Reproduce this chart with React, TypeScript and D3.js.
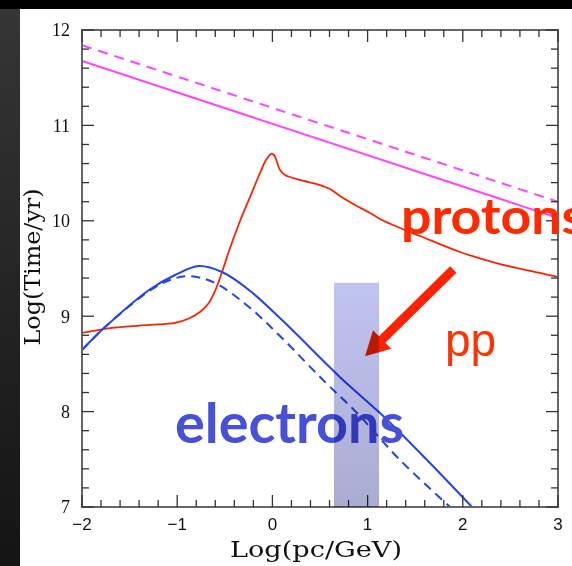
import React from "react";
import * as d3 from "d3";

// ---- data ----
const xDomain = [-2, 3];
const yDomain = [7, 12];
const xTickLabels = ["\u22122", "\u22121", "0", "1", "2", "3"];
const xTickValues = [-2, -1, 0, 1, 2, 3];
const yTickValues = [7, 8, 9, 10, 11, 12];
const yTickLabels = ["7", "8", "9", "10", "11", "12"];

// magenta straight lines
const magentaSolid: [number, number][] = [[-2, 11.675], [3, 10.03]];
const magentaDashed: [number, number][] = [[-2, 11.84], [3, 10.2]];

// protons (red)
const protonX = [-2.0, -1.706, -1.286, -1.023, -0.866, -0.761, -0.676, -0.603, -0.529, -0.456, -0.34, -0.235, -0.13, -0.067, -0.015, 0.017, 0.048, 0.08, 0.132, 0.29, 0.5, 0.605, 0.71, 0.868, 1.025, 1.13, 1.34, 1.55, 1.971, 2.391, 2.811, 3.0];
const protonY = [8.824, 8.876, 8.908, 8.929, 8.981, 9.044, 9.128, 9.264, 9.463, 9.684, 9.998, 10.249, 10.501, 10.637, 10.7, 10.69, 10.616, 10.532, 10.48, 10.428, 10.375, 10.333, 10.26, 10.166, 10.082, 10.019, 9.925, 9.841, 9.673, 9.547, 9.453, 9.411];

// electrons solid (blue)
const elecSolidX = [-2.0, -1.769, -1.296, -1.023, -0.771, -0.529, -0.246, 0.101, 0.742, 1.13, 1.624, 2.097];
const elecSolidY = [8.646, 8.876, 9.275, 9.432, 9.526, 9.463, 9.275, 8.96, 8.331, 7.985, 7.493, 7.0];

// electrons dashed (blue)
const elecDashX = [-2.0, -1.769, -1.296, -1.076, -0.876, -0.603, -0.246, 0.101, 0.532, 0.889, 1.34, 1.866];
const elecDashY = [8.646, 8.876, 9.264, 9.379, 9.421, 9.348, 9.096, 8.771, 8.331, 7.985, 7.493, 7.0];

// shaded band (x range and top y)
const bandX = [0.647, 1.12];
const bandTop = 9.35;

// arrow tail -> tip (data coords)
const arrowTail = [1.9, 9.49];
const arrowTip = [0.973, 8.58];

const W = 572;
const H = 566;
const M = { left: 82, right: 558, top: 30, bottom: 507 };

export default function App() {
  const x = d3.scaleLinear().domain(xDomain).range([M.left, M.right]);
  const y = d3.scaleLinear().domain(yDomain).range([M.bottom, M.top]);

  const line = d3
    .line<[number, number]>()
    .x((d) => x(d[0]))
    .y((d) => y(d[1]));
  const smooth = d3
    .line<[number, number]>()
    .x((d) => x(d[0]))
    .y((d) => y(d[1]))
    .curve(d3.curveCatmullRom.alpha(0.5));

  const zip = (a: number[], b: number[]) => a.map((v, i) => [v, b[i]] as [number, number]);

  const minorX = d3.range(-2, 3.0001, 0.2).map((v) => Math.round(v * 10) / 10);
  const minorY = d3.range(7, 12.0001, 0.2).map((v) => Math.round(v * 10) / 10);
  const isMajor = (v: number) => Math.abs(v - Math.round(v)) < 1e-6;

  // arrow polygon
  const tx = x(arrowTail[0]), ty = y(arrowTail[1]);
  const px = x(arrowTip[0]), py = y(arrowTip[1]);
  const len = Math.hypot(px - tx, py - ty);
  const ux = (px - tx) / len, uy = (py - ty) / len;
  const nx = -uy, ny = ux;
  const sw = 4.5, hl = 24, hw = 13;
  const neckX = px - ux * hl, neckY = py - uy * hl;
  const arrowPts = [
    [tx + nx * sw, ty + ny * sw],
    [neckX + nx * sw, neckY + ny * sw],
    [neckX + nx * hw, neckY + ny * hw],
    [px, py],
    [neckX - nx * hw, neckY - ny * hw],
    [neckX - nx * sw, neckY - ny * sw],
    [tx - nx * sw, ty - ny * sw],
  ]
    .map((p) => p.join(","))
    .join(" ");

  const tickColor = "#333";

  return (
    <svg
      width={W}
      height={H}
      style={{ position: "absolute", left: 0, top: 0, background: "#fff" }}
    >
      <defs>
        <linearGradient id="strip" x1="0" y1="0" x2="0" y2="1">
          <stop offset="0" stopColor="#363636" />
          <stop offset="1" stopColor="#141414" />
        </linearGradient>
        <linearGradient id="band" x1="0" y1="0" x2="0" y2="1">
          <stop offset="0" stopColor="rgb(192,196,240)" />
          <stop offset="1" stopColor="rgb(170,172,210)" />
        </linearGradient>
        <clipPath id="plot">
          <rect x={M.left} y={M.top} width={M.right - M.left} height={M.bottom - M.top} />
        </clipPath>
      </defs>

      {/* slide background */}
      <rect x={0} y={0} width={W} height={H} fill="#fff" />
      <rect x={0} y={0} width={20} height={H} fill="url(#strip)" />
      <rect x={0} y={0} width={W} height={9} fill="#000" />

      {/* curves */}
      <g clipPath="url(#plot)" fill="none">
        <path d={line(magentaDashed) || ""} stroke="#ff44ff" strokeWidth={2} strokeDasharray="10,7" />
        <path d={line(magentaSolid) || ""} stroke="#ff44ff" strokeWidth={2} />
        <path d={smooth(zip(protonX, protonY)) || ""} stroke="#ff2200" strokeWidth={1.8} />
        <path d={smooth(zip(elecDashX, elecDashY)) || ""} stroke="#2244ee" strokeWidth={2} strokeDasharray="9,6" />
        <path d={smooth(zip(elecSolidX, elecSolidY)) || ""} stroke="#2244ee" strokeWidth={2} />
      </g>

      {/* frame */}
      <rect
        x={M.left}
        y={M.top}
        width={M.right - M.left}
        height={M.bottom - M.top}
        fill="none"
        stroke="#666"
        strokeWidth={2}
      />
      {/* ticks */}
      <g stroke={tickColor} strokeWidth={1.3}>
        {minorX.map((v) => {
          const L = isMajor(v) ? 12 : 7;
          return (
            <g key={"x" + v}>
              <line x1={x(v)} x2={x(v)} y1={M.bottom} y2={M.bottom - L} />
              <line x1={x(v)} x2={x(v)} y1={M.top} y2={M.top + L} />
            </g>
          );
        })}
        {minorY.map((v) => {
          const L = isMajor(v) ? 12 : 7;
          return (
            <g key={"y" + v}>
              <line x1={M.left} x2={M.left + L} y1={y(v)} y2={y(v)} />
              <line x1={M.right} x2={M.right - L} y1={y(v)} y2={y(v)} />
            </g>
          );
        })}
      </g>

      {/* tick labels */}
      <g fontFamily="'Liberation Sans', Arial, sans-serif" fontSize={17} fill="#111" textAnchor="middle">
        {xTickValues.map((v, i) => (
          <text key={v} x={x(v)} y={M.bottom + 23}>
            {xTickLabels[i]}
          </text>
        ))}
      </g>
      <g fontFamily="'Liberation Serif', 'Times New Roman', serif" fontSize={18} fill="#111" textAnchor="end">
        {yTickValues.map((v, i) => (
          <text key={v} x={M.left - 12} y={y(v)} dy="0.35em">
            {yTickLabels[i]}
          </text>
        ))}
      </g>

      {/* axis titles */}
      <text
        x={316}
        y={557}
        textAnchor="middle"
        fontFamily="'DejaVu Serif', serif"
        fontSize={23}
        fill="#111"
        textLength={172}
        lengthAdjust="spacingAndGlyphs"
      >
        Log(pc/GeV)
      </text>
      <text
        transform="translate(40,267) rotate(-90)"
        textAnchor="middle"
        fontFamily="'DejaVu Serif', serif"
        fontSize={23}
        fill="#111"
        textLength={157}
        lengthAdjust="spacingAndGlyphs"
      >
        Log(Time/yr)
      </text>

      {/* annotations */}
      <text
        x={401}
        y={234}
        fontFamily="Lato, 'DejaVu Sans', sans-serif"
        fontWeight="bold"
        fontSize={50}
        fill="#ff2a00"
        textLength={184}
        lengthAdjust="spacingAndGlyphs"
      >
        protons
      </text>
      <text
        x={445}
        y={356}
        fontFamily="'Liberation Sans', Arial, sans-serif"
        fontSize={46}
        fill="#ff3300"
      >
        pp
      </text>
      <text
        x={175}
        y={443}
        fontFamily="Lato, 'DejaVu Sans', sans-serif"
        fontWeight="bold"
        fontSize={56}
        fill="#4650d8"
        textLength={229}
        lengthAdjust="spacingAndGlyphs"
      >
        electrons
      </text>
      <polygon points={arrowPts} fill="#ff2200" />

      {/* shaded band */}
      <rect
        x={x(bandX[0])}
        y={y(bandTop)}
        width={x(bandX[1]) - x(bandX[0])}
        height={y(7) - y(bandTop)}
        fill="url(#band)"
        style={{ mixBlendMode: "multiply" }}
      />
    </svg>
  );
}
